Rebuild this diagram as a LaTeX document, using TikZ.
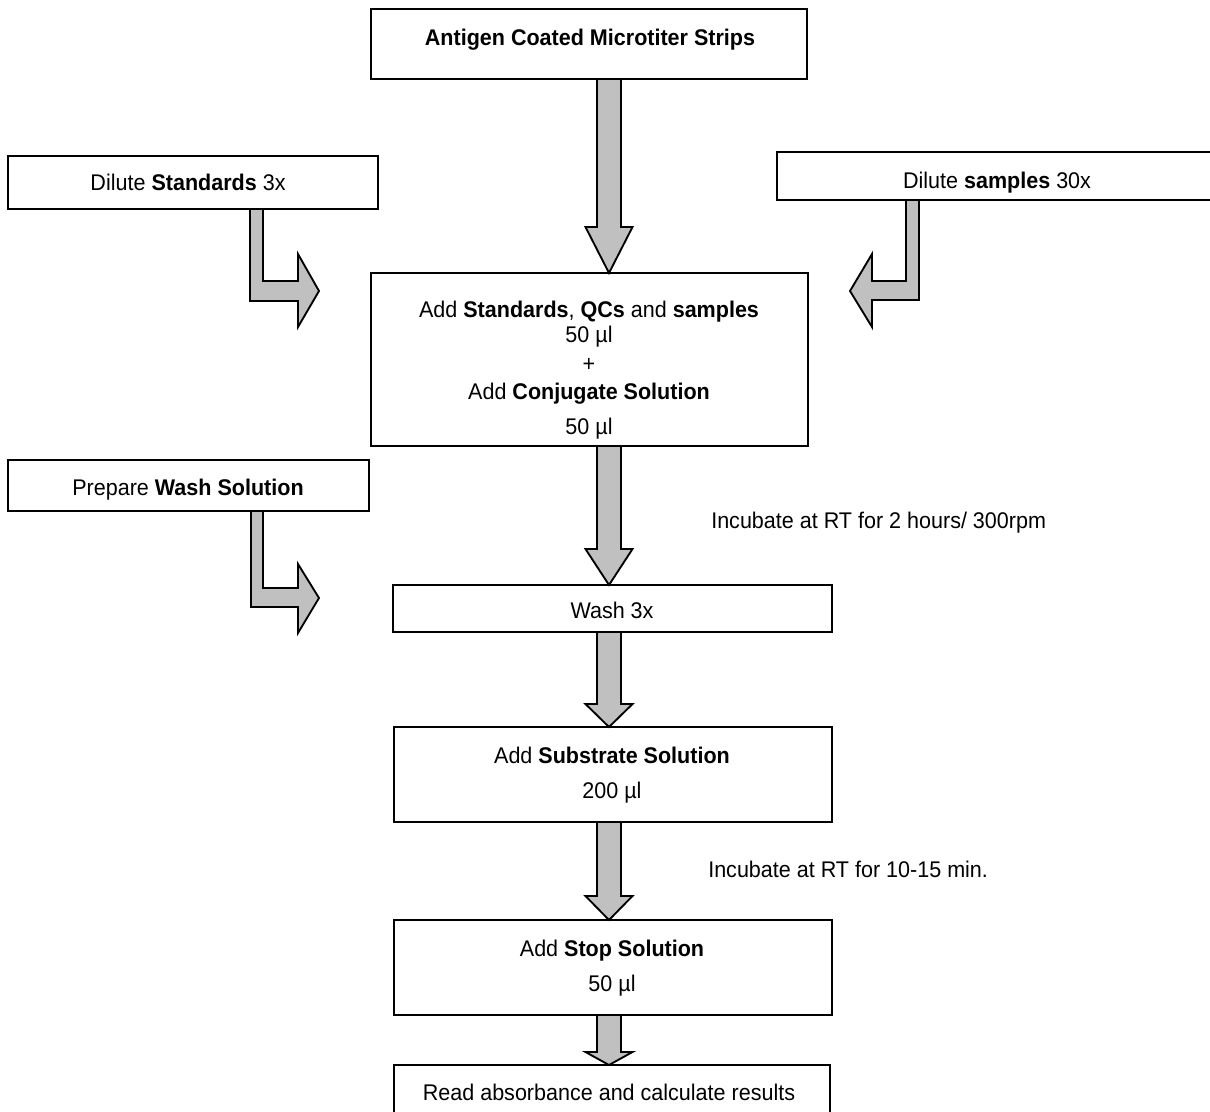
\documentclass[tikz,border=0pt]{standalone}
\usepackage{fontspec}
\setmainfont{Liberation Sans}[FakeStretch=0.95]
\usetikzlibrary{calc}
\definecolor{arrowgray}{RGB}{192,192,192}
\newcommand\dnarrow[3]{%
  \draw[blk] let \p1=(col |- #1.south), \p2=(col |- #2.north) in
    (\x1-9pt,\y1) -- (\x1-9pt,\y2+#3) -- (\x1-17.625pt,\y2+#3) -- (\x1,\y2)
    -- (\x1+17.625pt,\y2+#3) -- (\x1+9pt,\y2+#3) -- (\x1+9pt,\y1) -- cycle;}
\begin{document}
\begin{tikzpicture}[x=0.75pt,y=-0.75pt,
  box/.style 2 args={draw=black, line width=1.4pt, fill=white,
    minimum width=#1*0.75pt, minimum height=#2*0.75pt,
    inner sep=0pt, outer sep=0pt, anchor=north west},
  blk/.style={draw=black, line width=1.4pt, fill=arrowgray, line join=miter},
  txt/.style={font=\fontsize{17}{20}\selectfont, inner sep=0pt, anchor=base},
  txtl/.style={txt, anchor=base west},
]
\clip (0,0) rectangle (1210,1111);
\fill[white] (0,0) rectangle (1210,1111);
\coordinate (col) at (609,0);

% boxes
\node[box={436}{70}]  (top)  at (371,9) {};
\node[box={370}{53}]  (std)  at (8,156) {};
\node[box={442}{48}]  (smp)  at (777,152) {};
\node[box={437}{173}] (main) at (371,273) {};
\node[box={361}{51}]  (prep) at (8,460) {};
\node[box={439}{47}]  (wash) at (393,585) {};
\node[box={438}{95}]  (subs) at (394,727) {};
\node[box={438}{95}]  (stop) at (394,920) {};
\node[box={436}{70}]  (read) at (394,1065) {};

% straight block arrows
\dnarrow{top}{main}{34.5pt}
\dnarrow{main}{wash}{27pt}
\dnarrow{wash}{subs}{17.25pt}
\dnarrow{subs}{stop}{18pt}
\dnarrow{stop}{read}{9.75pt}

% bent block arrows
\draw[blk] (250,0 |- std.south) -- (250,301) -- (298,301) -- (298,327) -- (319,291)
  -- (298,254) -- (298,281) -- (263,281) -- (263,0 |- std.south) -- cycle;
\draw[blk] (919,0 |- smp.south) -- (919,300) -- (872,300) -- (872,327) -- (850,291)
  -- (872,254) -- (872,281) -- (906,281) -- (906,0 |- smp.south) -- cycle;
\draw[blk] (251,0 |- prep.south) -- (251,607) -- (298,607) -- (298,633) -- (319,598)
  -- (298,564) -- (298,588) -- (263,588) -- (263,0 |- prep.south) -- cycle;

% texts
\node[txt] (ttop) at (590,45) {\textbf{Antigen Coated Microtiter Strips}};
\node[txt] (tstd) at (188,190) {Dilute \textbf{Standards} 3x};
\node[txt] (tsmp) at (997,188) {Dilute \textbf{samples} 30x};
\node[txt] (tm1) at (589,317) {Add \textbf{Standards}, \textbf{QCs} and \textbf{samples}};
\node[txt] (tm2) at (589,342) {50 µl};
\node[txt] (tm3) at (589,371) {+};
\node[txt] (tm4) at (589,399) {Add \textbf{Conjugate Solution}};
\node[txt] (tm5) at (589,434) {50 µl};
\node[txt] (tprep) at (188,495) {Prepare \textbf{Wash Solution}};
\node[txt] (twash) at (612,618) {Wash 3x};
\node[txtl] (tinc1) at (711,528) {Incubate at RT for 2 hours/ 300rpm};
\node[txt] (ts1) at (612,763) {Add \textbf{Substrate Solution}};
\node[txt] (ts2) at (612,798) {200 µl};
\node[txtl] (tinc2) at (708,877) {Incubate at RT for 10-15 min.};
\node[txt] (tst1) at (612,956) {Add \textbf{Stop Solution}};
\node[txt] (tst2) at (612,991) {50 µl};
\node[txt] (tread) at (609,1100) {Read absorbance and calculate results};
\end{tikzpicture}
\end{document}
